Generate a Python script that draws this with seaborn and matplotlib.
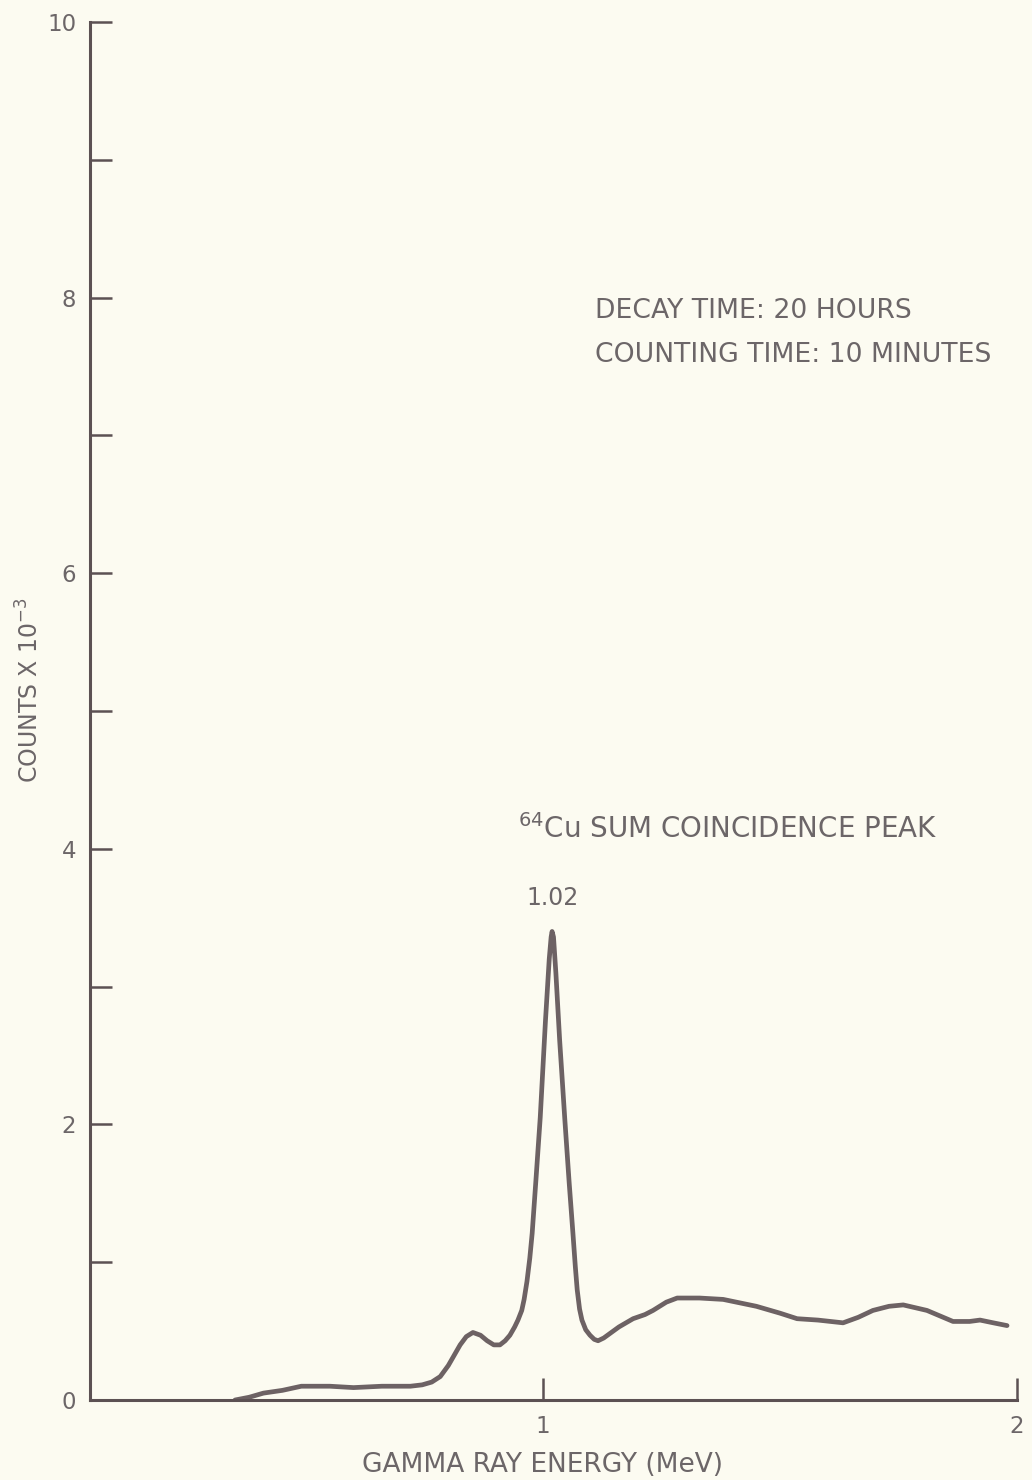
import matplotlib
matplotlib.use("Agg")
import matplotlib.pyplot as plt
import seaborn as sns
import pandas as pd

# ---- data ----
energy_mev = [0.35, 0.38, 0.41, 0.45, 0.49, 0.52, 0.55, 0.60, 0.66, 0.72, 0.745,
              0.765, 0.783, 0.80, 0.81, 0.825, 0.838, 0.852, 0.868, 0.882, 0.896,
              0.909, 0.92, 0.93, 0.94, 0.947, 0.955, 0.960, 0.966, 0.972, 0.977,
              0.985, 0.994, 1.005, 1.013, 1.017, 1.019, 1.022, 1.027, 1.035, 1.046,
              1.055, 1.063, 1.068, 1.072, 1.077, 1.082, 1.090, 1.099, 1.108, 1.116,
              1.128, 1.14, 1.16, 1.19, 1.215, 1.232, 1.26, 1.283, 1.33, 1.38,
              1.45, 1.50, 1.536, 1.58, 1.633, 1.665, 1.696, 1.73, 1.76, 1.81,
              1.865, 1.90, 1.922, 1.95, 1.979]
counts_k = [0.00, 0.02, 0.05, 0.07, 0.10, 0.10, 0.10, 0.09, 0.10, 0.10, 0.11,
            0.13, 0.17, 0.25, 0.31, 0.40, 0.46, 0.49, 0.47, 0.43, 0.40,
            0.40, 0.43, 0.47, 0.53, 0.58, 0.65, 0.73, 0.86, 1.03, 1.21,
            1.60, 2.05, 2.75, 3.20, 3.36, 3.40, 3.36, 3.10, 2.61, 2.03,
            1.58, 1.21, 0.97, 0.80, 0.66, 0.58, 0.51, 0.47, 0.44, 0.43,
            0.45, 0.48, 0.53, 0.59, 0.62, 0.65, 0.71, 0.74, 0.74, 0.73,
            0.68, 0.63, 0.59, 0.58, 0.56, 0.60, 0.65, 0.68, 0.69, 0.65,
            0.57, 0.57, 0.58, 0.56, 0.54]
y_major = [0, 2, 4, 6, 8, 10]
y_minor = [1, 3, 5, 7, 9]
x_ticks = [1, 2]
x_tick_labels = ["1", "2"]
notes = ["DECAY TIME: 20 HOURS", "COUNTING TIME: 10 MINUTES"]
peak_title = r"$^{64}$Cu SUM COINCIDENCE PEAK"
peak_value = "1.02"

df = pd.DataFrame({"energy": energy_mev, "counts": counts_k})

bg = "#fcfbf1"
ink = "#5c5153"
txt = "#6c6668"

sns.set_theme(style="white")
plt.rcParams["font.family"] = ["DejaVu Sans"]

fig = plt.figure(figsize=(10.32, 14.8), dpi=100, facecolor=bg)
ax = fig.add_axes([90 / 1032, 1 - 1400 / 1480, (1017 - 90) / 1032, (1400 - 22) / 1480])
ax.set_facecolor(bg)

sns.lineplot(data=df, x="energy", y="counts", ax=ax, color="#6d6264",
             linewidth=3.4, estimator=None, sort=False)
for line in ax.lines:
    line.set_solid_joinstyle("round")
    line.set_solid_capstyle("round")

ax.set_xlim(0.044, 2.0)
ax.set_ylim(0, 10)

for s in ["top", "right"]:
    ax.spines[s].set_visible(False)
for s in ["left", "bottom"]:
    ax.spines[s].set_color(ink)
    ax.spines[s].set_linewidth(2.2)

ax.set_yticks(y_major)
ax.set_yticklabels([str(v) for v in y_major])
ax.set_yticks(y_minor, minor=True)
ax.set_xticks(x_ticks)
ax.set_xticklabels(x_tick_labels)

ax.tick_params(axis="y", which="both", direction="in", length=16, width=1.8,
               color=ink, labelsize=16.5, labelcolor=txt, pad=10, left=True)
ax.tick_params(axis="x", which="both", direction="in", length=16, width=1.8,
               color=ink, labelsize=16.5, labelcolor=txt, pad=11, bottom=True)

ax.set_xlabel("GAMMA RAY ENERGY (MeV)", fontsize=19, color=txt)
ax.set_ylabel(r"COUNTS X 10$^{-3}$", fontsize=17, color=txt)
ax.xaxis.set_label_coords(0.4876, -0.038)
ax.yaxis.set_label_coords(-0.05, 0.515)

ax.text(1.11, 7.90, notes[0], fontsize=19.2, color=txt, ha="left", va="center")
ax.text(1.11, 7.58, notes[1], fontsize=19.2, color=txt, ha="left", va="center")
ax.text(0.947, 4.14, peak_title, fontsize=20, color=txt, ha="left", va="center")
ax.text(1.019, 3.64, peak_value, fontsize=17, color=txt, ha="center", va="center")

fig.savefig("out.png", dpi=100, facecolor=bg)
